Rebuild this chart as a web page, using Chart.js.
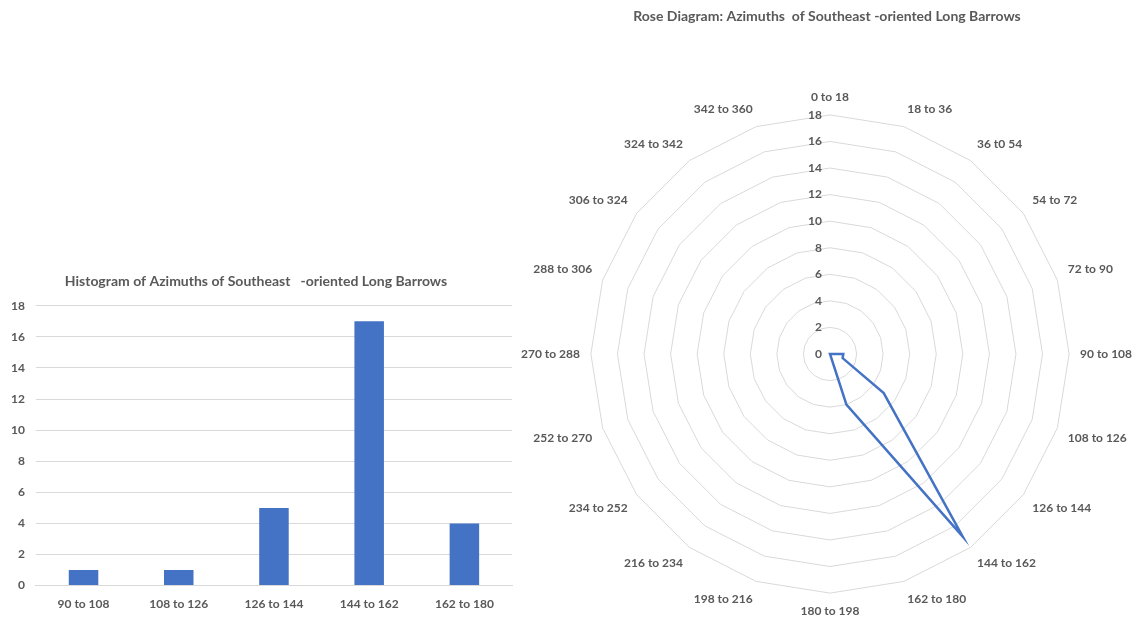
<!DOCTYPE html>
<html>
<head>
<meta charset="utf-8">
<script src="https://cdn.jsdelivr.net/npm/chart.js@4"></script>
<style>
  body { margin: 0; background: #fff; overflow: hidden; }
  #wrap { position: relative; width: 1143px; height: 623px; overflow: hidden; }
  #histBox { position: absolute; left: 0; top: 262px; width: 522px; height: 358px; }
  #roseBox { position: absolute; left: 518px; top: 0; width: 618px; height: 631px; }
</style>
</head>
<body>
<div id="wrap">
  <div id="histBox"><canvas id="hist"></canvas></div>
  <div id="roseBox"><canvas id="rose"></canvas></div>
</div>
<script>
// histogram bins (SE quadrant only)
const histLabels = ["90 to 108", "108 to 126", "126 to 144", "144 to 162", "162 to 180"];
const histCounts = [1, 1, 5, 17, 4];

// rose diagram: full circle in 18 degree sectors
const roseLabels = [
  "0 to 18", "18 to 36", "36 t0 54", "54 to 72", "72 to 90",
  "90 to 108", "108 to 126", "126 to 144", "144 to 162", "162 to 180",
  "180 to 198", "198 to 216", "216 to 234", "234 to 252", "252 to 270",
  "270 to 288", "288 to 306", "306 to 324", "324 to 342", "342 to 360"
];
const roseCounts = [0, 0, 0, 0, 0, 1, 1, 5, 17, 4, 0, 0, 0, 0, 0, 0, 0, 0, 0, 0];

const txtGrey = "#595959";
const gridGrey = "#d9d9d9";
const blue = "#4472C4";
const fontFam = "Lato, 'Open Sans', sans-serif";

Chart.defaults.font.family = fontFam;
Chart.defaults.color = txtGrey;

// radar tick labels, drawn to the left of the vertical axis like Excel does (incl. the 0)
const roseTicks = {
  id: "roseTicks",
  afterDatasetsDraw(chart) {
    const r = chart.scales.r;
    const ctx = chart.ctx;
    ctx.save();
    ctx.font = "bold 12px " + fontFam;
    ctx.fillStyle = txtGrey;
    ctx.textAlign = "right";
    ctx.textBaseline = "middle";
    r.ticks.forEach(t => {
      const d = r.getDistanceFromCenterForValue(t.value);
      ctx.fillText(t.label, r.xCenter - 8, r.yCenter - d);
    });
    ctx.restore();
  }
};

new Chart(document.getElementById("hist"), {
  type: "bar",
  data: {
    labels: histLabels,
    datasets: [{
      data: histCounts,
      backgroundColor: blue,
      borderWidth: 0,
      categoryPercentage: 1,
      barPercentage: 0.31
    }]
  },
  options: {
    responsive: true,
    maintainAspectRatio: false,
    animation: false,
    layout: { padding: { left: 0, right: 10, top: 4, bottom: 6 } },
    plugins: {
      legend: { display: false },
      tooltip: { enabled: false },
      title: {
        display: true,
        text: "Histogram of Azimuths of Southeast   -oriented Long Barrows",
        font: { size: 14, weight: "bold" },
        color: txtGrey,
        padding: { top: 7, bottom: 16 }
      }
    },
    scales: {
      x: {
        grid: { display: false },
        border: { color: gridGrey },
        ticks: { font: { size: 12, weight: "bold" }, color: txtGrey }
      },
      y: {
        min: 0,
        max: 18,
        ticks: { stepSize: 2, font: { size: 12, weight: "bold" }, color: txtGrey, padding: 11 },
        grid: { color: gridGrey, drawTicks: false },
        border: { display: false }
      }
    }
  }
});

new Chart(document.getElementById("rose"), {
  type: "radar",
  data: {
    labels: roseLabels,
    datasets: [{
      data: roseCounts,
      borderColor: blue,
      borderWidth: 2.5,
      fill: false,
      pointRadius: 0,
      tension: 0
    }]
  },
  options: {
    responsive: true,
    maintainAspectRatio: false,
    animation: false,
    layout: { padding: 0 },
    plugins: {
      legend: { display: false },
      tooltip: { enabled: false },
      title: {
        display: true,
        text: "Rose Diagram: Azimuths  of Southeast -oriented Long Barrows",
        font: { size: 14, weight: "bold" },
        color: txtGrey,
        padding: { top: 8, bottom: 53 }
      }
    },
    scales: {
      r: {
        min: 0,
        max: 18,
        ticks: { stepSize: 2, display: false },
        grid: { color: gridGrey },
        angleLines: { display: false },
        pointLabels: {
          font: { size: 12, weight: "bold" },
          color: txtGrey,
          padding: 11
        }
      }
    }
  },
  plugins: [roseTicks]
});
</script>
</body>
</html>
